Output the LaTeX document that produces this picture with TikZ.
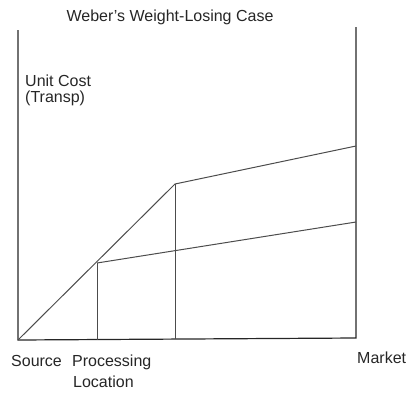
\documentclass[tikz,border=0pt]{standalone}
\usepackage{fontspec}
\setmainfont{Liberation Sans}
\usetikzlibrary{positioning}

\tikzset{
  axisline/.style={draw=black!85, line width=1.2pt},
  costline/.style={draw=black!70, line width=1pt},
  lbl/.style={font=\fontsize{16}{21}\selectfont, inner sep=0pt, text=black!85}
}

\begin{document}
\begin{tikzpicture}[x=1pt,y=-1pt]
  \useasboundingbox (0,0) rectangle (409,402);

  \coordinate (src) at (18,340);
  \coordinate (mkt) at (356,338);
  \coordinate (srctop) at (18,30);
  \coordinate (mkttop) at (356,27);
  \coordinate (proc) at (97,340);
  \coordinate (brk) at (175,339);
  \coordinate (procup) at (97,263);
  \coordinate (brkup) at (175,184);
  \coordinate (hiend) at (356,146);
  \coordinate (loend) at (356,222);

  % axes
  \draw[axisline] (srctop) -- (src) -- (mkt) -- (mkttop);

  % cost lines
  \draw[costline] (src) -- (brkup) -- (hiend);
  \draw[costline] (procup) -- (loend);
  \draw[costline] (procup) -- (proc);
  \draw[costline] (brkup) -- (brk);

  % labels
  \node[lbl, anchor=base] (title) at (170,21) {Weber's Weight-Losing Case};
  \node[lbl, anchor=base west] (unitcost) at (25,86) {Unit Cost};
  \node[lbl, anchor=base west] (transp) at (25,102) {(Transp)};
  \node[lbl, anchor=base west] (source) at (11,366) {Source};
  \node[lbl, anchor=base west] (processing) at (72,366) {Processing};
  \node[lbl, anchor=base west] (location) at (73,387) {Location};
  \node[lbl, anchor=base west] (market) at (357,363) {Market};
\end{tikzpicture}
\end{document}
